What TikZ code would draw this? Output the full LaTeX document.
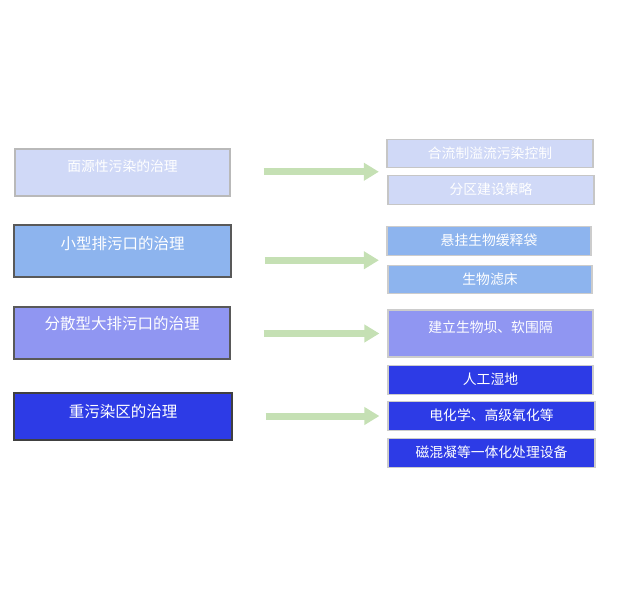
\documentclass[tikz,border=0pt]{standalone}
\usepackage{fontspec}
\newfontfamily\cjk{Noto Sans CJK SC}
\usepackage{tikz}
\usetikzlibrary{arrows.meta, calc}
\usepackage{xcolor}

\definecolor{paleblue}{HTML}{D0D9F7}
\definecolor{midblue}{HTML}{8DB4EE}
\definecolor{violet}{HTML}{9096F2}
\definecolor{deepblue}{HTML}{2D3BE6}
\definecolor{arrowgreen}{HTML}{C5E0B4}

\tikzset{
    box/.style={draw, line width=1.2pt, inner xsep=0pt, inner ysep=0pt, text=white},
    bigtext/.style={font=\cjk\fontsize{15.5}{17}\selectfont},
    smalltext/.style={font=\cjk\fontsize{13.8}{16}\selectfont},
    flat/.style={text height=19pt, text depth=9.5pt},
    flow/.style={arrowgreen, line width=7pt, -{Triangle[length=15pt,width=17pt]}, shorten <=33pt, shorten >=8pt}
}

\begin{document}
\begin{tikzpicture}[x=1pt, y=-1pt]
    \useasboundingbox (0,0) rectangle (629,600);
    % left column
    \node[box, smalltext, draw=gray!55, fill=paleblue, minimum width=215pt, text height=22pt, text depth=25pt] (l1) at (122.5,172.5) {面源性污染的治理};
    \node[box, bigtext, draw=black!65, fill=midblue, minimum width=217pt, text height=24pt, text depth=28pt] (l2) at (122.5,251) {小型排污口的治理};
    \node[box, bigtext, draw=black!65, fill=violet, minimum width=216pt, text height=22pt, text depth=30pt] (l3) at (122,333) {分散型大排污口的治理};
    \node[box, bigtext, draw=black!75, fill=deepblue, minimum width=218pt, text height=24pt, text depth=23pt] (l4) at (123,416.5) {重污染区的治理};
    % right column
    \node[box, smalltext, flat, draw=gray!45, fill=paleblue, minimum width=206pt] (a) at (490,153.5) {合流制溢流污染控制};
    \node[box, smalltext, flat, draw=gray!45, fill=paleblue, minimum width=206pt] (b) at (491,190) {分区建设策略};
    \node[box, smalltext, flat, draw=gray!40, fill=midblue, minimum width=204pt] (c) at (489,241) {悬挂生物缓释袋};
    \node[box, smalltext, flat, draw=gray!40, fill=midblue, minimum width=204pt] (d) at (490,279.5) {生物滤床};
    \node[box, smalltext, draw=gray!40, fill=violet, minimum width=205pt, text height=22pt, text depth=25pt] (e) at (490.5,333.5) {建立生物坝、软围隔};
    \node[box, smalltext, flat, draw=gray!40, fill=deepblue, minimum width=205pt] (f) at (490.5,380) {人工湿地};
    \node[box, smalltext, flat, draw=gray!40, fill=deepblue, minimum width=207pt] (g) at (491.5,416) {电化学、高级氧化等};
    \node[box, smalltext, flat, draw=gray!40, fill=deepblue, minimum width=207pt] (h) at (491.5,453) {磁混凝等一体化处理设备};
    % arrows
    \coordinate (t1) at ($(a.west)!0.5!(b.west)$);
    \coordinate (t2) at ($(c.west)!0.5!(d.west)$);
    \coordinate (t3) at (e.west);
    \coordinate (t4) at (g.west);
    \draw[flow] (l1.east |- t1) -- (t1);
    \draw[flow] (l2.east |- t2) -- (t2);
    \draw[flow] (l3.east |- t3) -- (t3);
    \draw[flow] (l4.east |- t4) -- (t4);
\end{tikzpicture}
\end{document}
